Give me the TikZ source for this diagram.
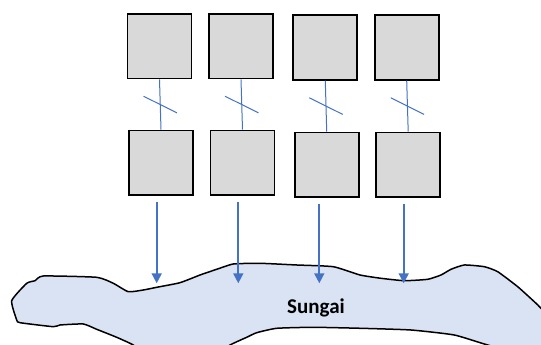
\documentclass[tikz,border=0pt]{standalone}
\usepackage{fontspec}
\setmainfont{Carlito}
\usetikzlibrary{arrows.meta,calc}

\definecolor{boxgray}{HTML}{D9D9D9}
\definecolor{linkblue}{HTML}{4472C4}
\definecolor{riverblue}{HTML}{DAE3F3}

\tikzset{
  unit/.style={draw=black,fill=boxgray,line width=1.8pt,
    minimum width=64pt,minimum height=64.5pt,inner sep=0pt},
  link/.style={draw=linkblue,line width=1pt},
  flow/.style={draw=linkblue,line width=1.7pt,-{Triangle[length=10pt,width=10pt]}},
  river/.style={draw=black,fill=riverblue,line width=1.5pt,line join=round},
}

\begin{document}
\begin{tikzpicture}[x=1pt,y=1pt]
  \useasboundingbox (0,0) rectangle (541,345);
  % river, running off the page at the bottom and right
  \begin{scope}
    \clip (0,0) rectangle (541,345);
    \draw[river] plot[smooth cycle,tension=0.3] coordinates {
      (11.7,44.3) (26.7,61.7) (35,64.3) (43.3,69) (96.7,67.7) (113.3,61.7)
      (128.3,53.3) (143.3,55) (156.7,57.7) (180,62.3) (200,70) (216.7,75.7)
      (233.3,81) (260,81.7) (296.7,80) (333.3,78.3) (360,70) (381,66.7)
      (404.3,64.3) (427.7,65.7) (441,70) (451,75.7) (464.3,80) (484.3,78.3)
      (497.7,73.3) (517.7,58.3) (534.3,43.3) (541,36.7) (556,18) (545,-15)
      (487.7,0) (454.3,10) (411,15) (361,16.7) (313.3,17.7) (276.7,16.7)
      (256.7,12.3) (246.7,7.7) (230,0) (212,-12) (150,-12) (133.3,0)
      (116.7,7.7) (96.7,15.7) (83.3,21) (60,20) (53.3,18.3) (20,22.3)
      (16.7,25)};
  \end{scope}
  \node[font=\bfseries\fontsize{21}{25}\selectfont,anchor=base] (sungai) at (316,31.7) {Sungai};

  % two rows of units
  \foreach \i/\x/\y in {1/159.5/298.7,2/241/298.7,3/325.3/297.5,4/406.7/297.5}{
    \node[unit] (t\i) at (\x,\y) {};
  }
  \foreach \i/\x/\y in {1/161/182.2,2/242.5/182.2,3/326.7/180.3,4/408.2/180.3}{
    \node[unit] (b\i) at (\x,\y) {};
  }

  % links with a cut mark, and outflow into the river
  \foreach \i/\x in {1/156.7,2/238.3,3/319.3,4/403.7}{
    \draw[link] (t\i.south) -- (b\i.north) coordinate[midway] (m\i);
    \draw[link] ($(m\i)+(-16.7,8.3)$) -- ($(m\i)+(16.7,-8.3)$);
    \coordinate (r\i) at (\x,61.7);
    \draw[flow] ($(b\i.south -| r\i)+(0,-6.5)$) -- (r\i);
  }
\end{tikzpicture}
\end{document}
